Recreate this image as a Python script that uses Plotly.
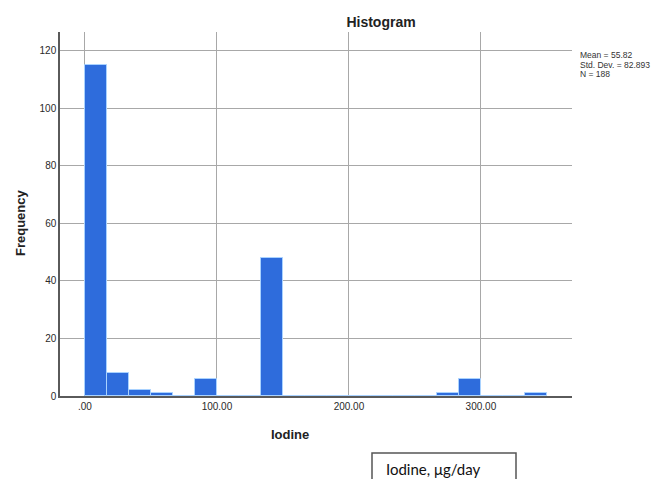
import plotly.graph_objects as go

# Histogram bins of iodine intake (width = 100/6), counts per bin
bin_width = 100 / 6
bin_starts = [i * bin_width for i in range(21)]
counts = [115, 8, 2, 1, 0, 6, 0, 0, 48, 0, 0, 0, 0, 0, 0, 0, 1, 6, 0, 0, 1]

x_tickvals = [0, 100, 200, 300]
x_ticktext = [".00", "100.00", "200.00", "300.00"]
y_tickvals = [0, 20, 40, 60, 80, 100, 120]

stats_lines = ["Mean = 55.82", "Std. Dev. = 82.893", "N = 188"]

W, H = 660, 479
L, R, T, B = 60, 572, 32, 396  # plot area in pixels


def px_x(p):
    return (p - L) / (R - L)


def px_y(p):
    return (B - p) / (B - T)


centers = [s + bin_width / 2 for s in bin_starts]

fig = go.Figure()
fig.add_trace(go.Bar(
    x=centers,
    y=counts,
    width=bin_width,
    marker=dict(color="#2e6cdc", line=dict(color="#a9d2ff", width=1)),
    hoverinfo="x+y",
))

axis_font = dict(family="Liberation Sans, Arial, sans-serif", size=10, color="#2a2a2a")

fig.update_layout(
    width=W,
    height=H,
    margin=dict(l=L, r=W - R, t=T, b=H - B),
    paper_bgcolor="white",
    plot_bgcolor="white",
    showlegend=False,
    bargap=0,
    title=dict(
        text="<b>Histogram</b>",
        x=381 / W, xref="container", xanchor="center",
        y=1 - 22 / H, yref="container", yanchor="middle",
        font=dict(family="Liberation Sans, Arial, sans-serif", size=14, color="#222222"),
    ),
    xaxis=dict(
        range=[-18.9, 369],
        tickvals=x_tickvals,
        ticktext=x_ticktext,
        tickfont=axis_font,
        showgrid=True, gridcolor="#a8a8a8", gridwidth=1,
        zeroline=False,
        showline=True, linecolor="#5a5a5a", linewidth=1.5,
        ticks="", fixedrange=True,
    ),
    yaxis=dict(
        range=[0, 126.6],
        tickvals=y_tickvals,
        tickfont=axis_font,
        showgrid=True, gridcolor="#a8a8a8", gridwidth=1,
        zeroline=False,
        showline=True, linecolor="#5a5a5a", linewidth=1.5,
        ticks="", fixedrange=True,
    ),
)

annotations = [
    dict(text="<b>Frequency</b>", x=px_x(20), y=px_y(223), xref="paper", yref="paper",
         textangle=-90, showarrow=False, xanchor="center", yanchor="middle",
         font=dict(family="Liberation Sans, Arial, sans-serif", size=13, color="#222222")),
    dict(text="<b>Iodine</b>", x=px_x(290), y=px_y(434), xref="paper", yref="paper",
         showarrow=False, xanchor="center", yanchor="middle",
         font=dict(family="Liberation Sans, Arial, sans-serif", size=13, color="#222222")),
    dict(text="Iodine, μg/day", x=px_x(384), y=px_y(469), xref="paper", yref="paper",
         showarrow=False, xanchor="left", yanchor="middle",
         font=dict(family="Lato, Open Sans, sans-serif", size=15, color="#111111")),
]
for i, line in enumerate(stats_lines):
    annotations.append(dict(
        text=line, x=px_x(579), y=px_y(55 + 9.5 * i), xref="paper", yref="paper",
        showarrow=False, xanchor="left", yanchor="middle", borderpad=0,
        font=dict(family="Liberation Sans, Arial, sans-serif", size=8.5, color="#333333"),
    ))
fig.update_layout(annotations=annotations)

fig.add_shape(type="rect", xref="paper", yref="paper",
              x0=px_x(372), x1=px_x(516), y0=px_y(453), y1=px_y(490),
              line=dict(color="#555555", width=1.5), fillcolor="rgba(0,0,0,0)")

fig.write_html("out.html")
